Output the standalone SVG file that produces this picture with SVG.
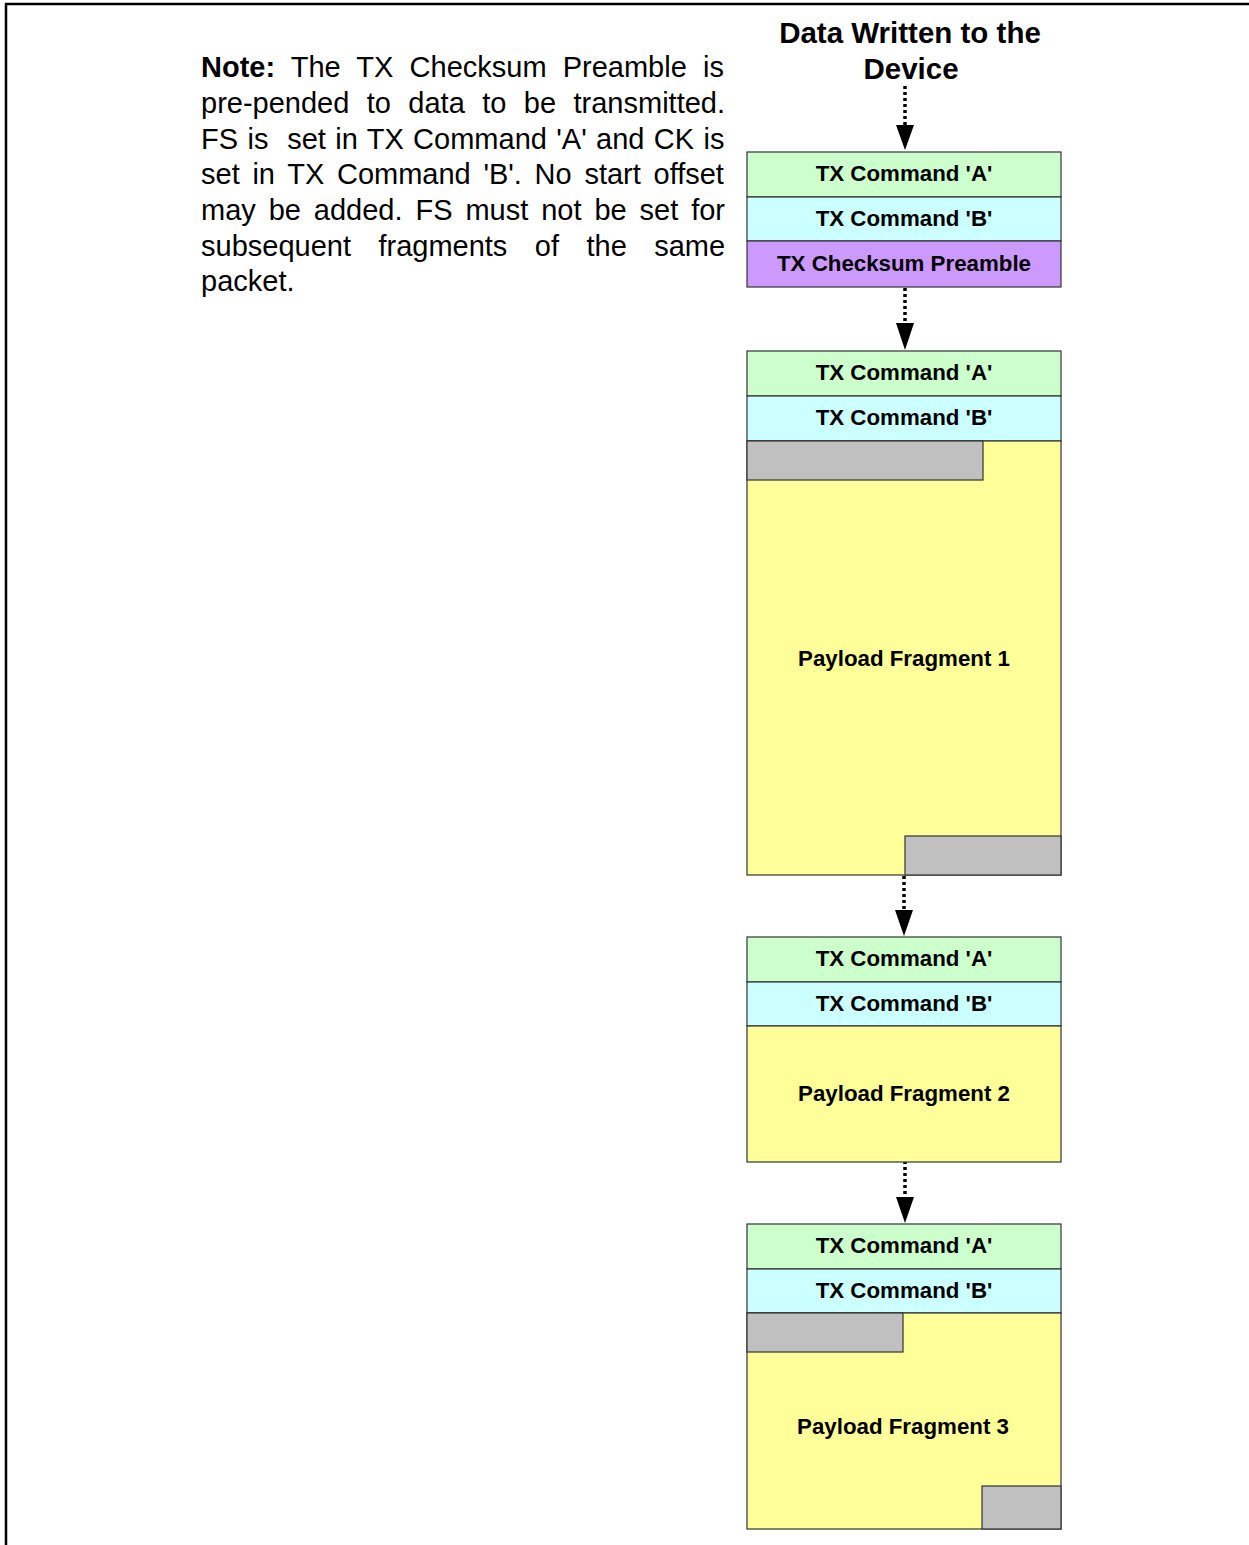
<svg xmlns="http://www.w3.org/2000/svg" width="1249" height="1545" viewBox="0 0 1249 1545">
<style>
.note{font-family:"Liberation Sans",Arial,sans-serif;font-size:29px;fill:#000;white-space:pre}
.title{font-family:"Liberation Sans",Arial,sans-serif;font-size:29.5px;font-weight:bold;fill:#000;text-anchor:middle}
.lbl{font-family:"Liberation Sans",Arial,sans-serif;font-size:22.3px;font-weight:bold;fill:#000;text-anchor:middle}
.box{stroke:#333;stroke-width:1.2}
.a{fill:#CCFFCC}
.b{fill:#CCFFFF}
.p{fill:#CC99FF}
.y{fill:#FFFF99}
.g{fill:#C0C0C0}
.conn{stroke:#000;stroke-width:3.5;stroke-dasharray:3 3;fill:none}
.head{fill:#000}
</style>
<rect width="1249" height="1545" fill="#fff"/>
<path d="M6,1545 V4 H1249" fill="none" stroke="#000" stroke-width="2.5"/>

<g id="note">
<text class="note" x="201" y="77" word-spacing="8.1"><tspan font-weight="bold">Note:</tspan> The TX Checksum Preamble is</text>
<text class="note" x="201" y="113" word-spacing="9.36">pre-pended to data to be transmitted.</text>
<text class="note" x="201" y="149" word-spacing="1.33">FS is  set in TX Command 'A' and CK is</text>
<text class="note" x="201" y="184" word-spacing="4.66">set in TX Command 'B'. No start offset</text>
<text class="note" x="201" y="220" word-spacing="4.85">may be added. FS must not be set for</text>
<text class="note" x="201" y="256" word-spacing="19.4">subsequent fragments of the same</text>
<text class="note" x="201" y="291">packet.</text>
</g>

<g id="title">
<text class="title" x="910" y="43">Data Written to the</text>
<text class="title" x="911" y="79">Device</text>
</g>

<g id="connectors">
<line class="conn" x1="905" y1="86" x2="905" y2="126"/>
<path class="head" d="M896,125 L914,125 L905,150 Z"/>
<line class="conn" x1="905" y1="288" x2="905" y2="324"/>
<path class="head" d="M896,323 L914,323 L905,350 Z"/>
<line class="conn" x1="904" y1="876" x2="904" y2="911"/>
<path class="head" d="M895,910 L913,910 L904,936 Z"/>
<line class="conn" x1="905" y1="1161" x2="905" y2="1198"/>
<path class="head" d="M896,1197 L914,1197 L905,1223 Z"/>
</g>

<g id="block1">
<rect class="box a" x="747" y="152" width="314" height="45"/>
<rect class="box b" x="747" y="197" width="314" height="44"/>
<rect class="box p" x="747" y="241" width="314" height="46"/>
<text class="lbl" x="904" y="181">TX Command 'A'</text>
<text class="lbl" x="904" y="226">TX Command 'B'</text>
<text class="lbl" x="904" y="271">TX Checksum Preamble</text>
</g>

<g id="block2">
<rect class="box a" x="747" y="351" width="314" height="45"/>
<rect class="box b" x="747" y="396" width="314" height="45"/>
<rect class="box y" x="747" y="441" width="314" height="434"/>
<rect class="box g" x="747" y="441" width="236" height="39"/>
<rect class="box g" x="905" y="836" width="156" height="39"/>
<text class="lbl" x="904" y="380">TX Command 'A'</text>
<text class="lbl" x="904" y="425">TX Command 'B'</text>
<text class="lbl" x="904" y="666">Payload Fragment 1</text>
</g>

<g id="block3">
<rect class="box a" x="747" y="937" width="314" height="45"/>
<rect class="box b" x="747" y="982" width="314" height="44"/>
<rect class="box y" x="747" y="1026" width="314" height="136"/>
<text class="lbl" x="904" y="966">TX Command 'A'</text>
<text class="lbl" x="904" y="1011">TX Command 'B'</text>
<text class="lbl" x="904" y="1101">Payload Fragment 2</text>
</g>

<g id="block4">
<rect class="box a" x="747" y="1224" width="314" height="45"/>
<rect class="box b" x="747" y="1269" width="314" height="44"/>
<rect class="box y" x="747" y="1313" width="314" height="216"/>
<rect class="box g" x="747" y="1313" width="156" height="39"/>
<rect class="box g" x="982" y="1486" width="79" height="43"/>
<text class="lbl" x="904" y="1253">TX Command 'A'</text>
<text class="lbl" x="904" y="1298">TX Command 'B'</text>
<text class="lbl" x="903" y="1434">Payload Fragment 3</text>
</g>
</svg>
